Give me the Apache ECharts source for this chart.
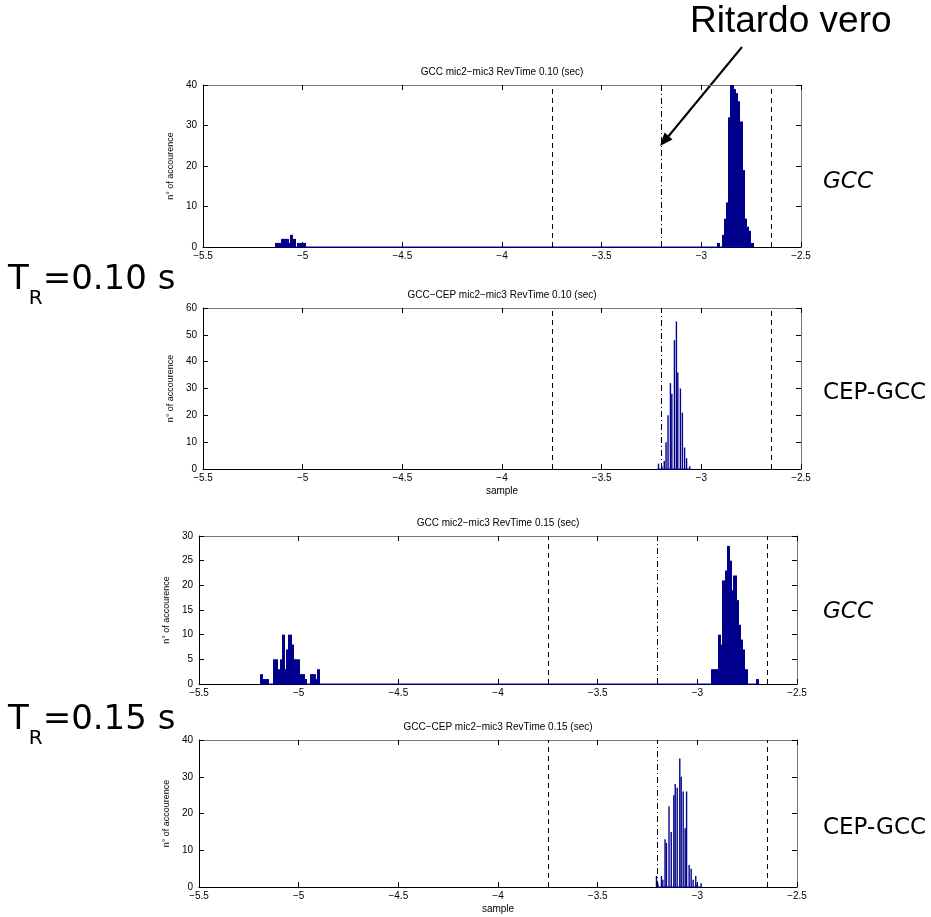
<!DOCTYPE html>
<html><head><meta charset="utf-8">
<script src="https://cdn.jsdelivr.net/npm/echarts@6/dist/echarts.min.js"></script>
<style>html,body{margin:0;padding:0;background:#fff}#c{width:931px;height:917px}</style>
</head><body><div id="c"></div><script>
// ---- data ----
const xMin = -5.5, xMax = -2.5, xStep = 0.5;
const bound1 = -3.75, trueDelay = -3.2, bound2 = -2.65;
const yMaxes = [40, 60, 30, 40];
const yIntervals = [10, 10, 5, 10];
const titles = [
  'GCC mic2\u2212mic3 RevTime 0.10 (sec)',
  'GCC\u2212CEP mic2\u2212mic3 RevTime 0.10 (sec)',
  'GCC mic2\u2212mic3 RevTime 0.15 (sec)',
  'GCC\u2212CEP mic2\u2212mic3 RevTime 0.15 (sec)'
];
const methodLabels = ['GCC', 'CEP-GCC', 'GCC', 'CEP-GCC'];
const yName = 'n\u00b0 of accourence';
const xName = 'sample';

// Panel 1: GCC, Tr 0.10 (wide adjacent bins)
const p1Centers = [-5.133,-5.122,-5.111,-5.100,-5.089,-5.078,-5.067,-5.055,-5.044,-5.033,-5.022,-5.011,-5.000,-4.989,
  -2.912,-2.901,-2.890,-2.879,-2.868,-2.857,-2.846,-2.834,-2.823,-2.812,-2.801,-2.790,-2.779,-2.768,-2.757,-2.746];
const p1Counts  = [1,1,1,2,2,2,1,3,2,0,1,1,0,1,
  1,0,3,7,11,32,40,39,38,36,31,19,7,5,4,1];

// Panel 2: CEP-GCC, Tr 0.10 (thin bars)
const p2Centers = [-3.215,-3.198,-3.186,-3.177,-3.167,-3.155,-3.148,-3.135,-3.125,-3.118,-3.105,-3.095,-3.084,-3.074,-3.058];
const p2Counts  = [2,1,3,10,20,32,28,48,55,36,30,21,8,4,1];

// Panel 3: GCC, Tr 0.15 (wide adjacent bins)
const p3Centers = [-5.188,-5.177,-5.166,-5.155,-5.144,-5.133,-5.122,-5.111,-5.099,-5.088,-5.077,-5.066,-5.055,-5.044,-5.033,-5.022,-5.011,-5.000,-4.989,-4.978,-4.967,-4.956,-4.945,-4.934,-4.923,-4.912,-4.900,
  -2.922,-2.911,-2.900,-2.888,-2.877,-2.866,-2.855,-2.844,-2.833,-2.822,-2.811,-2.800,-2.789,-2.778,-2.767,-2.756,-2.745,-2.734,-2.723,-2.712,-2.700];
const p3Counts  = [2,1,1,1,0,0,5,5,3,5,10,3,7,10,8,5,5,5,2,2,1,0,0,2,2,1,3,
  3,3,3,10,8,21,23,28,25,19,22,17,12,9,7,3,0,0,0,0,1];

// Panel 4: CEP-GCC, Tr 0.15 (thin bars)
const p4Centers = [-3.205,-3.198,-3.180,-3.173,-3.162,-3.155,-3.142,-3.131,-3.118,-3.111,-3.101,-3.088,-3.081,-3.071,-3.061,-3.054,-3.041,-3.031,-3.021,-3.008,-3.001,-2.981];
const p4Counts  = [3,1,3,2,13,12,22,15,25,28,27,35,30,26,16,26,6,5,2,3,1,1];

const panels = [
  {c: p1Centers, n: p1Counts, w: 0.0112, snap: true},
  {c: p2Centers, n: p2Counts, w: 0.0070, snap: false},
  {c: p3Centers, n: p3Counts, w: 0.0112, snap: true},
  {c: p4Centers, n: p4Counts, w: 0.0070, snap: false}
];

// ---- layout ----
const grids = [
  {left: 203, top: 85, width: 598, height: 162},
  {left: 203, top: 308, width: 598, height: 161},
  {left: 199, top: 536, width: 598, height: 148},
  {left: 199, top: 740, width: 598, height: 147}
];
const labelY = [182, 393, 612, 828];
const BAR = '#00008c';
const FONT = 'Liberation Sans, Arial, sans-serif';
const minus = s => String(s).replace(/-/g, '\u2212');

const xAxes = [], yAxes = [], series = [], graphics = [];
grids.forEach((g, i) => {
  const showXName = (i === 1 || i === 3);
  xAxes.push({
    type: 'value', gridIndex: i, min: xMin, max: xMax, interval: xStep, position: 'bottom',
    name: showXName ? xName : '', nameLocation: 'middle', nameGap: 17,
    nameTextStyle: {fontSize: 10, fontFamily: FONT, color: '#000'},
    axisLine: {show: true, onZero: false, lineStyle: {color: '#000', width: 1}},
    axisTick: {show: true, inside: true, length: 5, lineStyle: {color: '#000'}},
    axisLabel: {fontSize: 10, fontFamily: FONT, color: '#000', margin: 4, formatter: v => minus(v)},
    splitLine: {show: false}
  });
  xAxes.push({
    type: 'value', gridIndex: i, min: xMin, max: xMax, interval: xStep, position: 'top',
    axisLine: {show: true, onZero: false, lineStyle: {color: '#777', width: 1}},
    axisTick: {show: true, inside: true, length: 5, lineStyle: {color: '#000'}},
    axisLabel: {show: false}, splitLine: {show: false}
  });
  yAxes.push({
    type: 'value', gridIndex: i, min: 0, max: yMaxes[i], interval: yIntervals[i], position: 'left',
    name: yName, nameLocation: 'middle', nameGap: 24, nameRotate: 90,
    nameTextStyle: {fontSize: 9, fontFamily: FONT, color: '#000'},
    axisLine: {show: true, onZero: false, lineStyle: {color: '#000', width: 1}},
    axisTick: {show: true, inside: true, length: 5, lineStyle: {color: '#000'}},
    axisLabel: {fontSize: 10, fontFamily: FONT, color: '#000', margin: 6},
    splitLine: {show: false}
  });
  yAxes.push({
    type: 'value', gridIndex: i, min: 0, max: yMaxes[i], interval: yIntervals[i], position: 'right',
    axisLine: {show: true, onZero: false, lineStyle: {color: '#777', width: 1}},
    axisTick: {show: true, inside: true, length: 5, lineStyle: {color: '#000'}},
    axisLabel: {show: false}, splitLine: {show: false}
  });

  const p = panels[i];
  const data = p.c.map((c, k) => [c, p.n[k]]);
  const w = p.w, snap = p.snap;
  series.push({
    type: 'custom', xAxisIndex: 2 * i, yAxisIndex: 2 * i, data: data, encode: {x: 0, y: 1},
    clip: true, z: 3,
    renderItem: function (params, api) {
      const x = api.value(0), n = api.value(1);
      if (!n) return null;
      const a = api.coord([x - w / 2, n]);
      const b = api.coord([x + w / 2, 0]);
      let x0 = a[0], x1 = b[0];
      if (snap) { x0 = Math.floor(x0); x1 = Math.ceil(x1); }
      return {type: 'rect', shape: {x: x0, y: a[1], width: Math.max(x1 - x0, 1), height: b[1] - a[1]},
        style: {fill: BAR, stroke: null, lineWidth: 0}};
    }
  });
  const lo = Math.min(...p.c), hi = Math.max(...p.c);
  series.push({
    type: 'line', xAxisIndex: 2 * i, yAxisIndex: 2 * i, data: [[lo, 0], [hi, 0]],
    symbol: 'none', silent: true, z: 4,
    lineStyle: {color: '#0000ff', width: 1},
    markLine: {
      symbol: 'none', silent: true, label: {show: false},
      data: [
        {xAxis: bound1, lineStyle: {color: '#000', width: 1, type: [5, 4]}},
        {xAxis: trueDelay, lineStyle: {color: '#000', width: 1, type: [6, 3, 1, 3]}},
        {xAxis: bound2, lineStyle: {color: '#000', width: 1, type: [5, 4]}}
      ]
    }
  });

  // panel title
  graphics.push({type: 'text', x: g.left + g.width / 2, y: g.top - 13,
    style: {text: titles[i], font: '10px ' + FONT, fill: '#000', textAlign: 'center', textVerticalAlign: 'middle', align: 'center', verticalAlign: 'middle'}});
  // method label on right
  graphics.push({type: 'text', x: 823, y: labelY[i],
    style: {text: methodLabels[i], font: (methodLabels[i] === 'GCC' ? 'italic ' : '') + '23px DejaVu Sans, sans-serif', fill: '#000', textAlign: 'left', textVerticalAlign: 'middle', align: 'left', verticalAlign: 'middle'}});
});

// T_R labels
[['0.10', 263], ['0.15', 703]].forEach(([v, top]) => {
  graphics.push({type: 'text', x: 8, y: top,
    style: {
      text: '{a|T}{b|R}{a|=' + v + ' s}',
      rich: {
        a: {fontSize: 34, fontFamily: 'DejaVu Sans, sans-serif', fill: '#000', color: '#000', verticalAlign: 'bottom'},
        b: {fontSize: 20, fontFamily: 'DejaVu Sans, sans-serif', fill: '#000', color: '#000', verticalAlign: 'bottom', padding: [0, 0, -12, 0]}
      },
      textVerticalAlign: 'top', verticalAlign: 'top'
    }});
});

// "Ritardo vero" annotation with arrow
graphics.push({type: 'text', x: 690, y: 22,
  style: {text: 'Ritardo vero', font: '37px Liberation Sans, Arial, sans-serif', fill: '#000', textAlign: 'left', textVerticalAlign: 'middle', align: 'left', verticalAlign: 'middle'}});
graphics.push({type: 'line', shape: {x1: 742, y1: 47, x2: 667, y2: 138}, style: {stroke: '#000', lineWidth: 2}});
graphics.push({type: 'polygon', shape: {points: [[660, 146], [672.5, 139.5], [664.5, 132.5]]}, style: {fill: '#000'}});

const chart = echarts.init(document.getElementById('c'), null, {renderer: 'canvas'});
chart.setOption({
  backgroundColor: '#fff',
  animation: false,
  grid: grids.map(g => Object.assign({containLabel: false}, g)),
  xAxis: xAxes,
  yAxis: yAxes,
  series: series,
  graphic: graphics
});
</script></body></html>
